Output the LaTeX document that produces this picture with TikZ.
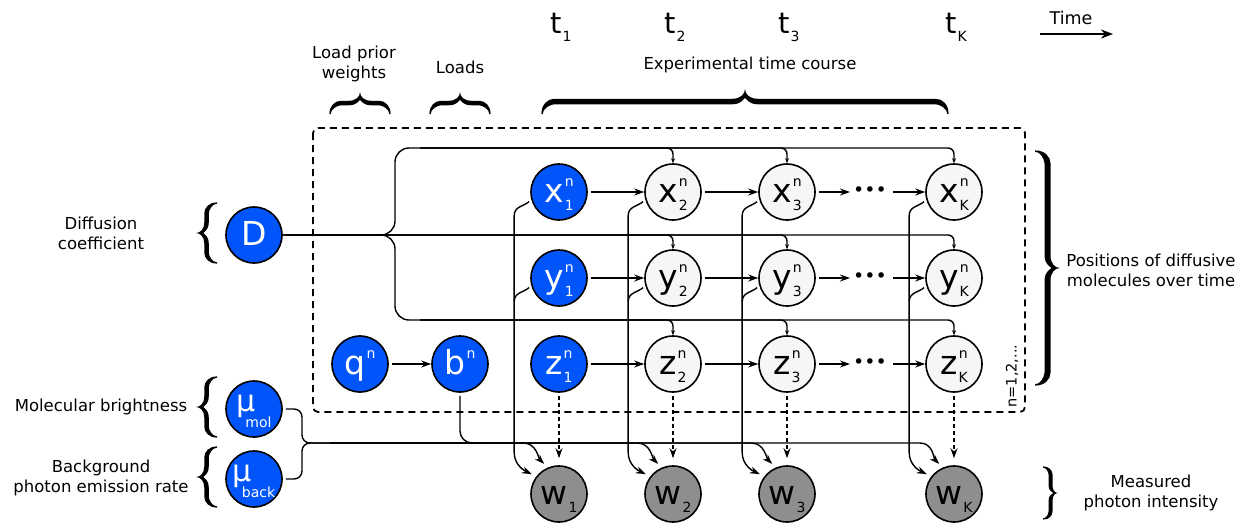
\documentclass[tikz,border=0pt]{standalone}
\usepackage{fontspec}
\setmainfont{DejaVu Sans}
\usepackage{tikz}
\usetikzlibrary{arrows.meta,calc}

\definecolor{nodeblue}{RGB}{0,85,250}
\definecolor{nodelight}{RGB}{246,246,246}
\definecolor{nodegray}{RGB}{142,142,142}
\newcommand{\sfs}{\fontsize{14}{14}\selectfont}
\newcommand{\vsub}[3]{#1\kern1pt\raisebox{-8pt}[0pt][0pt]{\sfs #3}\llap{\raisebox{16pt}[0pt][0pt]{\sfs #2}}}
\newcommand{\vsup}[2]{#1\kern1pt\raisebox{16pt}[0pt][0pt]{\sfs #2}}
\newcommand{\vlow}[2]{#1\kern1pt\raisebox{-8pt}[0pt][0pt]{\sfs #2}}
\newcommand{\vmu}[1]{μ\kern-10pt\raisebox{-16pt}[0pt][0pt]{\sfs #1}}

% filled curly brace, tip towards +x: half length / width / stroke
\tikzset{pics/curly/.style args={#1/#2/#3}{code={
	\fill (0,#1+0.6) .. controls ({0.55*#2/2+#3/2},#1+0.6) and ({#2/2+#3/2},{#1-0.45*#2/2}) .. ({#2/2+#3/2},{#1-#2/2})
		-- ({#2/2+#3/2},{#2/2})
		.. controls ({#2/2+#3/2},{0.35*#2/2}) and ({0.8*#2},0) .. (#2,0)
		.. controls ({0.8*#2},0) and ({#2/2+#3/2},{-0.35*#2/2}) .. ({#2/2+#3/2},{-#2/2})
		-- ({#2/2+#3/2},{-#1+#2/2})
		.. controls ({#2/2+#3/2},{-#1+0.45*#2/2}) and ({0.55*#2/2+#3/2},-#1-0.6) .. (0,-#1-0.6)
		-- (0,-#1+0.6)
		.. controls ({0.45*#2/2},-#1+0.6) and ({#2/2-#3/2},{-#1+0.7*#2/2}) .. ({#2/2-#3/2},{-#1+#2/2})
		-- ({#2/2-#3/2},{-#2/2})
		.. controls ({#2/2-#3/2},{-0.3*#2/2}) and ({#2/2+#3/2},{-0.05*#2}) .. ({#2/2+#3/2+1},0)
		.. controls ({#2/2+#3/2},{0.05*#2}) and ({#2/2-#3/2},{0.3*#2/2}) .. ({#2/2-#3/2},{#2/2})
		-- ({#2/2-#3/2},{#1-#2/2})
		.. controls ({#2/2-#3/2},{#1-0.7*#2/2}) and ({0.45*#2/2},#1-0.6) .. (0,#1-0.6) -- cycle;
}}}

\begin{document}
\begin{tikzpicture}[x=1pt,y=1pt]
		\tikzstyle{var}=[draw, circle, line width=1.6pt, minimum size=56pt, inner sep=0pt, text height=20pt, text depth=0pt, font=\fontsize{33}{33}\selectfont]
		\tikzstyle{hid}=[var, fill=nodeblue, text=white]
		\tikzstyle{lat}=[var, fill=nodelight]
		\tikzstyle{obs}=[var, fill=nodegray]
		\tikzstyle{mu}=[text height=14pt, text depth=10pt, font=\fontsize{30}{30}\selectfont]
		\tikzstyle{dots}=[font=\fontsize{19}{19}\selectfont, inner sep=3pt]
		\tikzstyle{lab}=[align=center, font=\fontsize{16.5}{20}\selectfont]
		\tikzstyle{tlab}=[anchor=base, font=\fontsize{29}{29}\selectfont]
		\tikzstyle{arr}=[line width=1.4pt, -{Stealth[length=10pt,width=7pt]}, shorten <=3pt]
		\tikzstyle{warr}=[arr, shorten >=5pt]
		\tikzstyle{darr}=[arr, dash pattern=on 4pt off 3pt, shorten >=7pt]
		\tikzstyle{link}=[line width=1.4pt, shorten <=3pt]
		\tikzstyle{tap}=[line width=1.4pt, -{Stealth[length=5pt,width=4pt]}, rounded corners=6pt]
		
		\useasboundingbox (0,0) rectangle (1245,-525);
		\draw[line width=1.8pt, dash pattern=on 7pt off 5pt, rounded corners=5pt] (313,-128) rectangle (1025,-412);
		
		\node[tlab] at (561,-33) {\vlow{t}{1}};
		\node[tlab] at (675,-33) {\vlow{t}{2}};
		\node[tlab] at (789,-33) {\vlow{t}{3}};
		\node[tlab] at (956,-33) {\vlow{t}{K}};
		\node[lab, font=\fontsize{17.5}{20}\selectfont] at (1071,-18) {Time};
		\coordinate (t0) at (1040,-34);
		\coordinate (t9) at (1113,-34);
		\draw[line width=2.4pt, -{Stealth[length=12pt,width=9pt]}] (t0) -- (t9);
		
		\node[lab] at (354,-64) {Load prior\\weights};
		\node[lab] at (460,-67) {Loads};
		\node[lab] at (750,-65) {Experimental time course};
		\pic[rotate=90] at (360,-114) {curly=30/22/4.5};
		\pic[rotate=90] at (460,-114) {curly=30/22/4.5};
		\pic[rotate=90] at (745,-114) {curly=203/25/5.5};
		
		\node[lab] at (101,-233) {Diffusion\\coefficient};
		\node[lab] at (101,-407) {Molecular brightness};
		\node[lab] at (101,-478) {Background\\photon emission rate};
		\pic[rotate=180] at (217,-233) {curly=30/21/4.5};
		\pic[rotate=180] at (217,-407) {curly=30/21/4.5};
		\pic[rotate=180] at (217,-477) {curly=30/21/4.5};
		
		\pic at (1035,-268) {curly=117/25/6};
		\pic at (1043,-493) {curly=26/15/4};
		\node[lab] at (1151,-270) {Positions of diffusive\\molecules over time};
		\node[lab] at (1151,-493) {Measured\\photon intensity};
		\node[rotate=90, font=\fontsize{14.5}{14.5}\selectfont] at (1012,-376) {n=1,2,...};
		
		\node[hid] (D) at (254,-235) {D};
		\node[hid, mu] (mm) at (254,-409) {\vmu{mol}};
		\node[hid, mu] (mb) at (254,-479) {\vmu{back}};
		\node[hid] (q) at (360,-364) {\vsup{q}{n}};
		\node[hid] (b) at (460,-364) {\vsup{b}{n}};
		
		\node[hid] (x1) at (559,-192) {\vsub{x}{n}{1}};
		\node[lat] (x2) at (673,-192) {\vsub{x}{n}{2}};
		\node[lat] (x3) at (787,-192) {\vsub{x}{n}{3}};
		\node[dots] (xd) at (870,-192) {•••};
		\node[lat] (xK) at (954,-192) {\vsub{x}{n}{K}};
		
		\node[hid] (y1) at (559,-278) {\vsub{y}{n}{1}};
		\node[lat] (y2) at (673,-278) {\vsub{y}{n}{2}};
		\node[lat] (y3) at (787,-278) {\vsub{y}{n}{3}};
		\node[dots] (yd) at (870,-278) {•••};
		\node[lat] (yK) at (954,-278) {\vsub{y}{n}{K}};
		
		\node[hid] (z1) at (559,-364) {\vsub{z}{n}{1}};
		\node[lat] (z2) at (673,-364) {\vsub{z}{n}{2}};
		\node[lat] (z3) at (787,-364) {\vsub{z}{n}{3}};
		\node[dots] (zd) at (870,-364) {•••};
		\node[lat] (zK) at (954,-364) {\vsub{z}{n}{K}};
		
		\node[obs] (w1) at (559,-494) {\vlow{w}{1}};
		\node[obs] (w2) at (673,-494) {\vlow{w}{2}};
		\node[obs] (w3) at (787,-494) {\vlow{w}{3}};
		\node[obs] (wK) at (954,-494) {\vlow{w}{K}};
		
		% time chains
		\draw[arr] (x1) -- (x2); \draw[arr] (x2) -- (x3); \draw[arr] (x3) -- (xd); \draw[arr] (xd) -- (xK);
		\draw[arr] (y1) -- (y2); \draw[arr] (y2) -- (y3); \draw[arr] (y3) -- (yd); \draw[arr] (yd) -- (yK);
		\draw[arr] (z1) -- (z2); \draw[arr] (z2) -- (z3); \draw[arr] (z3) -- (zd); \draw[arr] (zd) -- (zK);
		\draw[arr] (q) -- (b);
		
		% diffusion coefficient to all later positions
		\coordinate (xbus) at (395,-148);
		\coordinate (zbus) at (395,-320);
		\coordinate (xtap) at (420,-148);
		\coordinate (ztap) at (420,-320);
		\draw[link, rounded corners=14pt] (D) -| (xbus) -- (xtap);
		\draw[link, rounded corners=14pt] (D) -| (zbus) -- (ztap);
		\draw[tap] (xtap) -| (x2.north); \draw[tap] (xtap) -| (x3.north); \draw[tap] (xtap) -| (xK.north);
		\draw[tap, shorten <=3pt] (D) -| (y2.north); \draw[tap] (D) -| (y3.north); \draw[tap] (D) -| (yK.north);
		\draw[tap] (ztap) -| (z2.north); \draw[tap] (ztap) -| (z3.north); \draw[tap] (ztap) -| (zK.north);
		
		% positions to intensities
		\draw[warr] (x1.195) to[out=225,in=90] ++(-17,-16) -- ++(0,-237) to[out=-90,in=155] (w1.142);
		\draw[warr] (x2.195) to[out=225,in=90] ++(-17,-16) -- ++(0,-237) to[out=-90,in=155] (w2.142);
		\draw[warr] (x3.195) to[out=225,in=90] ++(-17,-16) -- ++(0,-237) to[out=-90,in=155] (w3.142);
		\draw[warr] (xK.195) to[out=225,in=90] ++(-17,-16) -- ++(0,-237) to[out=-90,in=155] (wK.142);
		\draw[link] (y1.195) to[out=225,in=90] ++(-17,-16);
		\draw[link] (y2.195) to[out=225,in=90] ++(-17,-16);
		\draw[link] (y3.195) to[out=225,in=90] ++(-17,-16);
		\draw[link] (yK.195) to[out=225,in=90] ++(-17,-16);
		\draw[darr] (z1) -- (w1); \draw[darr] (z2) -- (w2); \draw[darr] (z3) -- (w3); \draw[darr] (zK) -- (wK);
		
		% brightnesses and loads to intensities
		\coordinate (wbus) at (302,-443);
		\coordinate (wtap) at (330,-443);
		\coordinate (btap) at (490,-443);
		\draw[link, rounded corners=8pt] (mm) -| (wbus) -- (wtap);
		\draw[link, rounded corners=8pt] (mb) -| (wbus) -- (wtap);
		\draw[link, rounded corners=12pt] (b) |- (btap);
		\draw[warr, shorten <=0pt] (wtap) -- (523,-443) to[out=0,in=135] (w1.113);
		\draw[warr, shorten <=0pt] (wtap) -- (637,-443) to[out=0,in=135] (w2.113);
		\draw[warr, shorten <=0pt] (wtap) -- (751,-443) to[out=0,in=135] (w3.113);
		\draw[warr, shorten <=0pt] (wtap) -- (920,-443) to[out=0,in=135] (wK.113);
	\end{tikzpicture}
\end{document}
